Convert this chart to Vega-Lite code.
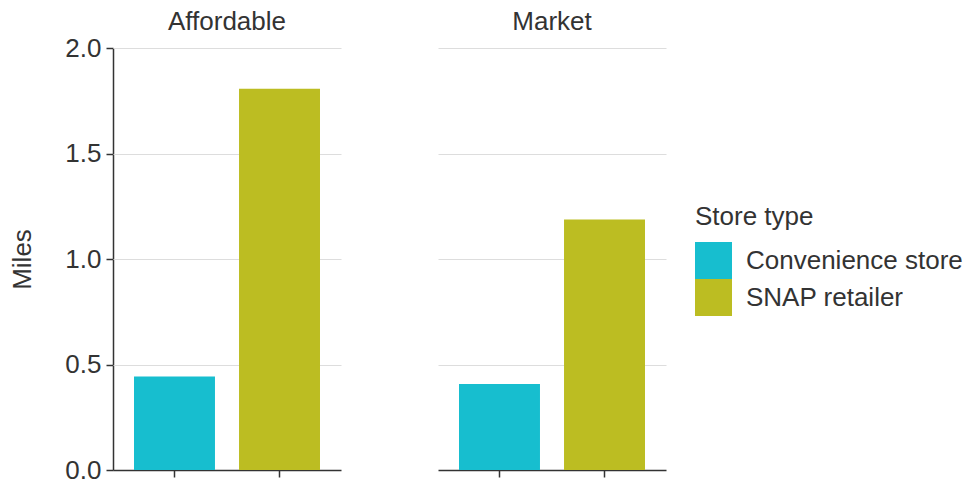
{
  "$schema": "https://vega.github.io/schema/vega-lite/v6.json",
  "background": "white",
  "padding": {"left": 9, "top": 9, "right": 5, "bottom": 2},
  "data": {
    "values": [
      {"area": "Affordable", "store": "Convenience store", "miles": 0.443},
      {"area": "Affordable", "store": "SNAP retailer", "miles": 1.807},
      {"area": "Market", "store": "Convenience store", "miles": 0.408},
      {"area": "Market", "store": "SNAP retailer", "miles": 1.187}
    ]
  },
  "spacing": 97,
  "facet": {
    "column": {
      "field": "area",
      "type": "nominal",
      "header": {
        "title": null,
        "labelFontSize": 26,
        "labelFont": "Liberation Sans",
        "labelColor": "#333333",
        "labelPadding": 13
      }
    }
  },
  "spec": {
    "width": 228,
    "height": 422,
    "mark": {"type": "bar"},
    "encoding": {
      "x": {
        "field": "store",
        "type": "nominal",
        "scale": {"paddingInner": 0.229, "paddingOuter": 0.2},
        "axis": {
          "title": null,
          "labels": false,
          "ticks": true,
          "tickSize": 7,
          "tickColor": "#333333",
          "domainColor": "#333333",
          "domainWidth": 1.5,
          "tickWidth": 1.5,
          "zindex": 1
        }
      },
      "y": {
        "field": "miles",
        "type": "quantitative",
        "scale": {"domain": [0, 2]},
        "axis": {
          "title": "Miles",
          "values": [0, 0.5, 1, 1.5, 2],
          "format": ".1f",
          "tickSize": 7,
          "tickColor": "#333333",
          "domainColor": "#333333",
          "domainWidth": 1.5,
          "tickWidth": 1.5,
          "labelFontSize": 26,
          "labelFont": "Liberation Sans",
          "labelColor": "#333333",
          "labelPadding": 5,
          "titleFontSize": 26,
          "titleFont": "Liberation Sans",
          "titleFontWeight": "normal",
          "titleColor": "#333333",
          "titlePadding": 29,
          "gridColor": {"condition": {"test": "datum.value === 0", "value": "transparent"}, "value": "#dddddd"}
        }
      },
      "color": {
        "field": "store",
        "type": "nominal",
        "scale": {"domain": ["Convenience store", "SNAP retailer"], "range": ["#17BECF", "#BCBD22"]},
        "legend": {
          "title": "Store type",
          "orient": "none",
          "legendX": 582,
          "legendY": 156,
          "symbolType": "square",
          "symbolSize": 1369,
          "symbolStrokeWidth": 0,
          "symbolOpacity": 1,
          "rowPadding": 0,
          "labelOffset": 14,
          "labelLimit": 400,
          "labelFontSize": 26,
          "labelFont": "Liberation Sans",
          "labelColor": "#333333",
          "titleFontSize": 26,
          "titleFont": "Liberation Sans",
          "titleFontWeight": "normal",
          "titleColor": "#333333",
          "titlePadding": 12
        }
      }
    }
  },
  "config": {
    "view": {"stroke": null},
    "font": "Liberation Sans"
  }
}
